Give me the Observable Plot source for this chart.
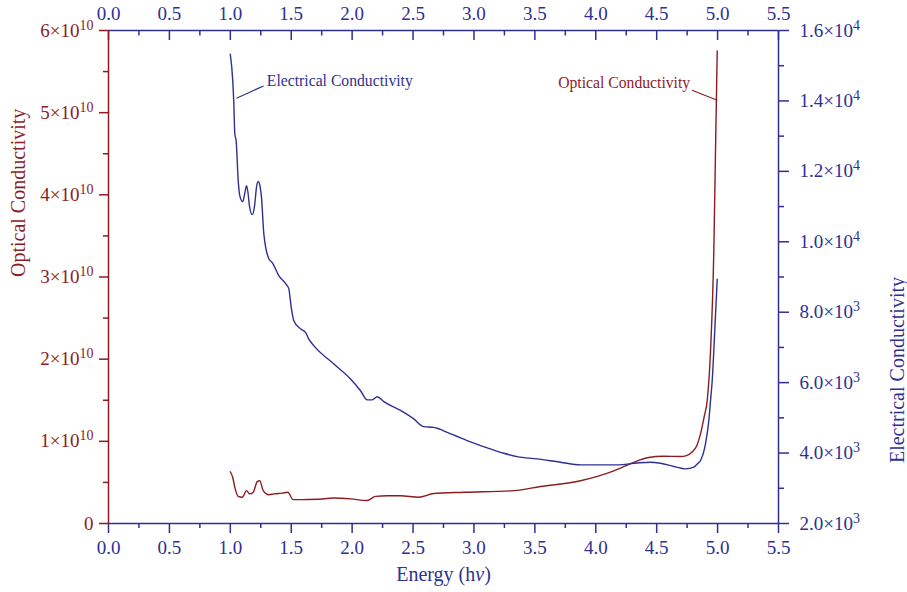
<!DOCTYPE html>
<html>
<head>
<meta charset="utf-8">
<script src="https://cdn.jsdelivr.net/npm/d3@7"></script>
<script src="https://cdn.jsdelivr.net/npm/@observablehq/plot@0.6"></script>
<style>
  html, body { margin: 0; padding: 0; background: #ffffff; }
  #chart { position: relative; width: 907px; height: 592px; }
  #chart svg { position: absolute; left: 0; top: 0; }
</style>
</head>
<body>
<div id="chart"></div>
<script>
// ---- data ----
// Optical conductivity (units of 10^10) vs photon energy (eV)
const opticalEnergy = [1.00, 1.02, 1.037, 1.065, 1.098, 1.133, 1.16, 1.188, 1.221, 1.242, 1.27, 1.316, 1.357, 1.426, 1.472, 1.516, 1.576, 1.713, 1.85, 1.987, 2.124, 2.192, 2.288, 2.397, 2.547, 2.67, 2.917, 3.327, 3.546, 3.875, 4.148, 4.312, 4.422, 4.558, 4.695, 4.75, 4.79, 4.83, 4.86, 4.89, 4.915, 4.942, 4.969, 4.983, 4.997];
const opticalValues = [0.63, 0.56, 0.44, 0.33, 0.32, 0.40, 0.36, 0.38, 0.51, 0.52, 0.40, 0.35, 0.36, 0.37, 0.38, 0.29, 0.29, 0.295, 0.31, 0.30, 0.28, 0.33, 0.337, 0.337, 0.32, 0.365, 0.38, 0.40, 0.45, 0.52, 0.64, 0.745, 0.80, 0.818, 0.815, 0.83, 0.87, 0.95, 1.09, 1.30, 1.50, 2.10, 3.32, 4.54, 5.75];

// Electrical conductivity vs photon energy (eV)
const electricalEnergy = [1.000, 1.020, 1.028, 1.037, 1.048, 1.065, 1.078, 1.102, 1.120, 1.133, 1.145, 1.157, 1.180, 1.199, 1.215, 1.229, 1.245, 1.256, 1.275, 1.316, 1.344, 1.398, 1.461, 1.480, 1.500, 1.521, 1.576, 1.617, 1.642, 1.685, 1.850, 1.987, 2.069, 2.124, 2.165, 2.206, 2.260, 2.397, 2.506, 2.588, 2.670, 2.711, 2.780, 2.944, 3.109, 3.245, 3.355, 3.519, 3.710, 3.875, 4.012, 4.176, 4.340, 4.449, 4.531, 4.641, 4.737, 4.805, 4.833, 4.860, 4.901, 4.928, 4.942, 4.956, 4.969, 4.997];
const electricalValues = [15325, 14570, 14000, 13055, 12865, 11730, 11305, 11140, 11400, 11590, 11400, 11020, 10770, 11020, 11550, 11710, 11550, 11260, 10230, 9520, 9410, 9040, 8780, 8670, 8140, 7760, 7530, 7430, 7250, 7050, 6530, 6105, 5770, 5510, 5510, 5600, 5460, 5210, 4970, 4750, 4730, 4690, 4590, 4355, 4150, 3995, 3900, 3835, 3740, 3665, 3665, 3665, 3720, 3740, 3710, 3620, 3550, 3600, 3690, 3790, 4270, 4920, 5490, 6060, 6910, 8940];

// tick values
const xMajorTicks = [0, 0.5, 1.0, 1.5, 2.0, 2.5, 3.0, 3.5, 4.0, 4.5, 5.0, 5.5];
const xMinorTicks = [0.25, 0.75, 1.25, 1.75, 2.25, 2.75, 3.25, 3.75, 4.25, 4.75, 5.25];
const leftMajorTicks = [0, 1, 2, 3, 4, 5, 6];
const leftMinorTicks = [0.5, 1.5, 2.5, 3.5, 4.5, 5.5];
const rightMajorTicks = [2000, 4000, 6000, 8000, 10000, 12000, 14000, 16000];
const rightMinorTicks = [3000, 5000, 7000, 9000, 11000, 13000, 15000];

// titles / labels
const xTitle = "Energy (hν)";
const leftTitle = "Optical Conductivity";
const rightTitle = "Electrical Conductivity";
const opticalLabel = "Optical Conductivity";
const electricalLabel = "Electrical Conductivity";

// ---- build ----
const RED = "#8b1c1f";
const BLUE = "#2e3192";
const FONT = "'Liberation Serif', 'DejaVu Serif', serif";
const TICK_FS = 19;

const optical = opticalEnergy.map((e, i) => ({e, v: opticalValues[i]}));
const electrical = electricalEnergy.map((e, i) => ({e, v: electricalValues[i]}));

const common = {
  width: 907, height: 592,
  marginLeft: 108, marginRight: 129, marginTop: 30, marginBottom: 69,
  style: {fontFamily: FONT, fontSize: "18px", background: "transparent", overflow: "visible"}
};

const leftFmt = v => v === 0 ? "0" : `${v}×10^10`;
const rightFmt = v => v < 10000 ? `${(v / 1000).toFixed(1)}×10^3` : `${(v / 10000).toFixed(1)}×10^4`;
const xFmt = d3.format(".1f");

const p1 = Plot.plot({
  ...common,
  x: {domain: [0, 5.5]},
  y: {domain: [0, 6]},
  marks: [
    // x axes (blue)
    Plot.axisX(xMajorTicks, {anchor: "bottom", tickSize: 10, tickPadding: 7, tickFormat: xFmt, color: BLUE, fontSize: TICK_FS, strokeWidth: 1.5, label: null}),
    Plot.axisX(xMinorTicks, {anchor: "bottom", tickSize: 5, tickFormat: () => "", color: BLUE, strokeWidth: 1.5, label: null}),
    Plot.axisX(xMajorTicks, {anchor: "top", tickSize: 0, tickPadding: 11, tickFormat: xFmt, color: BLUE, fontSize: TICK_FS, label: null}),
    Plot.axisX(xMajorTicks, {anchor: "top", tickSize: -9, tickFormat: () => "", color: BLUE, strokeWidth: 1.5, label: null}),
    Plot.axisX(xMinorTicks, {anchor: "top", tickSize: -4.5, tickFormat: () => "", color: BLUE, strokeWidth: 1.5, label: null}),
    // left axis (red)
    Plot.axisY(leftMajorTicks, {anchor: "left", tickSize: 9, tickPadding: 6, tickFormat: leftFmt, color: RED, fontSize: TICK_FS, strokeWidth: 1.5, label: null}),
    Plot.axisY(leftMinorTicks, {anchor: "left", tickSize: 5, tickFormat: () => "", color: RED, strokeWidth: 1.5, label: null}),
    // frame
    Plot.ruleY([6], {stroke: BLUE, strokeWidth: 1.5}),
    Plot.ruleX([5.5], {stroke: BLUE, strokeWidth: 1.5}),
    Plot.ruleY([0], {stroke: BLUE, strokeWidth: 1.5}),
    Plot.ruleX([0], {stroke: RED, strokeWidth: 1.5}),
    // optical curve
    Plot.line(optical, {x: "e", y: "v", stroke: RED, strokeWidth: 1.4, curve: "monotone-x"}),
    // annotation
    Plot.link([0], {x1: 4.791, y1: 5.273, x2: 4.997, y2: 5.151, stroke: RED, strokeWidth: 1.2}),
    Plot.text([opticalLabel], {text: d => d, x: 4.775, y: 5.36, textAnchor: "end", fill: RED, fontSize: 15.7}),
    // titles
    Plot.text([leftTitle], {text: d => d, frameAnchor: "left", dx: -90, rotate: -90, fill: RED, fontSize: 20}),
    Plot.text([xTitle], {text: d => d, frameAnchor: "bottom", dy: 57, fill: BLUE, fontSize: 20})
  ]
});

const p2 = Plot.plot({
  ...common,
  x: {domain: [0, 5.5], axis: null},
  y: {domain: [2000, 16000]},
  marks: [
    Plot.axisY(rightMajorTicks, {anchor: "right", tickSize: 10, tickPadding: 11, tickFormat: rightFmt, color: BLUE, fontSize: TICK_FS, strokeWidth: 1.5, label: null}),
    Plot.axisY(rightMinorTicks, {anchor: "right", tickSize: 5, tickFormat: () => "", color: BLUE, strokeWidth: 1.5, label: null}),
    Plot.line(electrical, {x: "e", y: "v", stroke: BLUE, strokeWidth: 1.4, curve: "monotone-x"}),
    Plot.link([0], {x1: 1.051, y1: 14077, x2: 1.273, y2: 14426, stroke: BLUE, strokeWidth: 1.2}),
    Plot.text([electricalLabel], {text: d => d, x: 1.30, y: 14560, textAnchor: "start", fill: BLUE, fontSize: 15.7}),
    Plot.text([rightTitle], {text: d => d, frameAnchor: "right", dx: 119, rotate: -90, fill: BLUE, fontSize: 20})
  ]
});

const chart = document.getElementById("chart");
chart.appendChild(p1);
chart.appendChild(p2);

// superscripts and italic nu
const NS = "http://www.w3.org/2000/svg";
for (const svg of [p1, p2]) {
  for (const t of svg.querySelectorAll("text")) {
    const s = t.textContent;
    const i = s.indexOf("^");
    if (i >= 0) {
      t.textContent = s.slice(0, i);
      const ts = document.createElementNS(NS, "tspan");
      ts.setAttribute("dy", "-7");
      ts.setAttribute("font-size", "14");
      ts.textContent = s.slice(i + 1);
      t.appendChild(ts);
    }
    const j = t.textContent.indexOf("ν");
    if (j >= 0 && t.children.length === 0) {
      const str = t.textContent;
      t.textContent = str.slice(0, j);
      const it = document.createElementNS(NS, "tspan");
      it.setAttribute("font-style", "italic");
      it.textContent = "ν";
      t.appendChild(it);
      t.appendChild(document.createTextNode(str.slice(j + 1)));
    }
  }
}
</script>
</body>
</html>
